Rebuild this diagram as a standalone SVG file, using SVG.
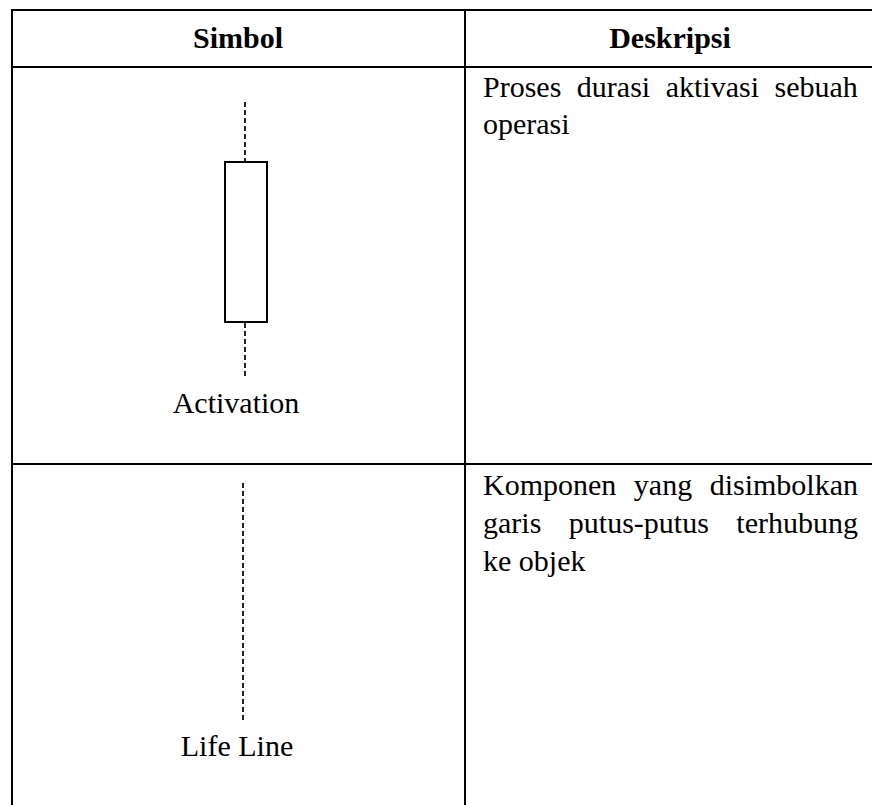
<svg xmlns="http://www.w3.org/2000/svg" width="872" height="805" viewBox="0 0 872 805">
<style>
.grid{stroke:#000;stroke-width:2;fill:none}
.hd{font-family:"Liberation Serif","Times New Roman",serif;font-weight:bold;font-size:30px;fill:#000;text-anchor:middle}
.tx{font-family:"Liberation Serif","Times New Roman",serif;font-size:30px;fill:#000}
.lbl{font-family:"Liberation Serif","Times New Roman",serif;font-size:30px;fill:#000;text-anchor:middle}
.dash{stroke:#222;stroke-width:2;stroke-dasharray:5 3;fill:none}
</style>
<rect width="872" height="805" fill="#fff"/>
<g id="table">
<line class="grid" x1="11" y1="10" x2="872" y2="10"/>
<line class="grid" x1="11" y1="67" x2="872" y2="67"/>
<line class="grid" x1="11" y1="464" x2="872" y2="464"/>
<line class="grid" x1="12" y1="9" x2="12" y2="805"/>
<line class="grid" x1="465" y1="9" x2="465" y2="805"/>
<text class="hd" x="238" y="48">Simbol</text>
<text class="hd" x="670" y="48">Deskripsi</text>
</g>
<g id="activation">
<line class="dash" x1="245" y1="102" x2="245" y2="161"/>
<rect x="225" y="162" width="42" height="160" fill="#fff" stroke="#000" stroke-width="2"/>
<line class="dash" x1="245" y1="323" x2="245" y2="376"/>
<text class="lbl" x="236" y="413">Activation</text>
</g>
<g id="activation-desc">
<text class="tx" x="483" y="97" word-spacing="8">Proses durasi aktivasi sebuah</text>
<text class="tx" x="483" y="134">operasi</text>
</g>
<g id="lifeline">
<line class="dash" x1="243" y1="483" x2="243" y2="720"/>
<text class="lbl" x="237" y="756">Life Line</text>
</g>
<g id="lifeline-desc">
<text class="tx" x="483" y="495" word-spacing="10">Komponen yang disimbolkan</text>
<text class="tx" x="483" y="533" word-spacing="20">garis putus-putus terhubung</text>
<text class="tx" x="483" y="571">ke objek</text>
</g>
<g id="connectors"/>
</svg>
